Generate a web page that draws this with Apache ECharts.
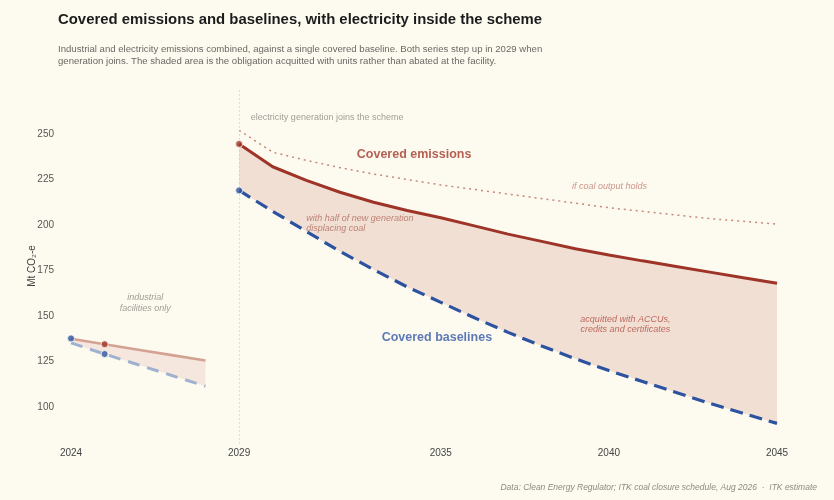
<!DOCTYPE html>
<html>
<head>
<meta charset="utf-8">
<script src="https://cdn.jsdelivr.net/npm/echarts@6.0.0/dist/echarts.min.js"></script>
<style>
  html, body { margin: 0; padding: 0; background: #fdfbf0; }
  #chart { width: 834px; height: 500px; }
</style>
</head>
<body>
<div id="chart"></div>
<script>
// industrial facilities only, before generation joins
let industYears = [2024, 2025, 2026, 2027, 2028];
let industEmissions = [137.5, 134.5, 131.5, 128.5, 125.5];
let industBaselines = [135.2, 129.1, 123.2, 117.3, 111.4];

// with electricity inside the scheme
let years = [2029, 2030, 2031, 2032, 2033, 2034, 2035, 2036, 2037, 2038, 2039, 2040, 2041, 2042, 2043, 2044, 2045];
let emissions = [244.5, 232, 224.5, 218, 212.5, 208, 204, 199.5, 195, 191, 187, 183.5, 180.3, 177.2, 174.1, 171, 168];
let coalHolds = [252, 240, 235.5, 231.5, 228, 225, 222, 219.5, 217, 214.5, 212, 209.5, 207.5, 205.5, 203.5, 202, 200.5];
let baselines = [219, 207.5, 196.5, 185.5, 175.5, 166, 157.5, 149, 141, 133.5, 126.5, 120, 114, 108, 102, 96.5, 91];

// highlighted points
let emissionDots = [[2025, 134.5], [2029, 244.5]];
let baselineDots = [[2024, 137.7], [2025, 129.1], [2029, 219]];

let xTicks = [2024, 2029, 2035, 2040, 2045];
let yTicks = [100, 125, 150, 175, 200, 225, 250];

let font = "'Liberation Sans', Arial, sans-serif";
let red = '#9e3327', blue = '#2c52a0';

let pairs = function (xs, ys) {
  return xs.map(function (x, i) { return [x, ys[i]]; });
};

// band between two lines, one polygon built through the axes
let band = function (xs, top, bottom, color) {
  return {
    type: 'custom', silent: true, z: 1,
    data: xs.map(function (x, i) { return [x, top[i], bottom[i]]; }),
    encode: { x: 0, y: [1, 2] },
    renderItem: function (params, api) {
      if (params.dataIndex !== 0) return null;
      let pts = [];
      xs.forEach(function (x, i) { pts.push(api.coord([x, top[i]])); });
      for (let i = xs.length - 1; i >= 0; i--) pts.push(api.coord([xs[i], bottom[i]]));
      return { type: 'polygon', shape: { points: pts }, style: { fill: color } };
    }
  };
};

// text notes, placed in data coordinates
let notes = [
  { at: [2029.35, 258.8], text: 'electricity generation joins the scheme', color: '#8a8680', style: 'normal', weight: 'normal', size: 9, align: 'left' },
  { at: [2032.5, 238.5], text: 'Covered emissions', color: '#a3382c', style: 'normal', weight: 'bold', size: 12.5, align: 'left' },
  { at: [2038.9, 221], text: 'if coal output holds', color: '#c07a70', style: 'italic', weight: 'normal', size: 9, align: 'left' },
  { at: [2031.0, 200.9], text: 'with half of new generation\ndisplacing coal', color: '#b0685c', style: 'italic', weight: 'normal', size: 9, align: 'left' },
  { at: [2033.24, 138], text: 'Covered baselines', color: '#3459a6', style: 'normal', weight: 'bold', size: 12.5, align: 'left' },
  { at: [2040.49, 145.3], text: 'acquitted with ACCUs,\ncredits and certificates', color: '#b04a3e', style: 'italic', weight: 'normal', size: 9, align: 'center' },
  { at: [2026.21, 157.1], text: 'industrial\nfacilities only', color: '#8a8680', style: 'italic', weight: 'normal', size: 9, align: 'center' }
];

let chart = echarts.init(document.getElementById('chart'));

chart.setOption({
  backgroundColor: '#fdfbf0',
  animation: false,
  textStyle: { fontFamily: font },
  title: [
    {
      text: 'Covered emissions and baselines, with electricity inside the scheme',
      left: 53, top: 7,
      textStyle: { fontSize: 14.9, fontWeight: 'bold', color: '#1c1c1c', fontFamily: font }
    },
    {
      text: 'Industrial and electricity emissions combined, against a single covered baseline. Both series step up in 2029 when\ngeneration joins. The shaded area is the obligation acquitted with units rather than abated at the facility.',
      left: 53, top: 38,
      textStyle: { fontSize: 9.6, fontWeight: 'normal', color: '#6b6864', lineHeight: 12, fontFamily: font }
    },
    {
      text: 'Data: Clean Energy Regulator; ITK coal closure schedule, Aug 2026  ·  ITK estimate',
      right: 12, bottom: 3,
      textStyle: { fontSize: 8.5, fontWeight: 'normal', fontStyle: 'italic', color: '#8d8a84', fontFamily: font }
    }
  ],
  grid: { left: 71, right: 57, top: 88.5, bottom: 56.6 },
  xAxis: {
    type: 'value',
    min: 2024, max: 2045,
    axisLine: { show: false },
    axisTick: { show: false },
    splitLine: { show: false },
    axisLabel: {
      customValues: xTicks, color: '#444', fontSize: 10, margin: 5,
      formatter: function (v) { return String(v); }
    }
  },
  yAxis: {
    type: 'value',
    min: 80, max: 275,
    name: 'Mt CO₂-e',
    nameLocation: 'middle',
    nameGap: 34,
    nameMoveOverlap: false,
    nameTextStyle: { color: '#444', fontSize: 10 },
    axisLine: { show: false },
    axisTick: { show: false },
    splitLine: { show: false },
    axisLabel: { customValues: yTicks, color: '#555', fontSize: 10, margin: 17 }
  },
  series: [
    band(industYears, industEmissions, industBaselines, '#f5e7de'),
    band(years, emissions, baselines, '#f1dfd4'),
    // lines
    {
      type: 'line', data: pairs(industYears, industEmissions), showSymbol: false,
      lineStyle: { color: '#d4a293', width: 2.6 }, z: 3,
      markLine: {
        silent: true, symbol: 'none',
        label: { show: false },
        lineStyle: { color: '#c4beb0', width: 1, type: [1, 3] },
        data: [{ xAxis: 2029 }]
      }
    },
    {
      type: 'line', data: pairs(industYears, industBaselines), showSymbol: false,
      lineStyle: { color: '#a0b1d0', width: 3, type: [12, 8] }, z: 3
    },
    {
      type: 'line', data: pairs(years, coalHolds), showSymbol: false,
      lineStyle: { color: '#c8877b', width: 1.5, type: [2, 4] }, z: 3
    },
    {
      type: 'line', data: pairs(years, emissions), showSymbol: false,
      lineStyle: { color: red, width: 3 }, z: 4
    },
    {
      type: 'line', data: pairs(years, baselines), showSymbol: false,
      lineStyle: { color: blue, width: 3.2, type: [13, 7] }, z: 4
    },
    // dots
    {
      type: 'scatter', data: emissionDots, symbolSize: 7,
      itemStyle: { color: red, borderColor: '#fdfbf0', borderWidth: 1 }, z: 5
    },
    {
      type: 'scatter', data: baselineDots, symbolSize: 7,
      itemStyle: { color: blue, borderColor: '#fdfbf0', borderWidth: 1 }, z: 5
    },
    // notes
    {
      type: 'scatter', symbolSize: 0, silent: true, z: 6,
      data: notes.map(function (n) {
        return {
          value: n.at,
          label: {
            show: true, position: 'inside', formatter: n.text,
            align: n.align, verticalAlign: 'middle',
            color: n.color, fontStyle: n.style, fontWeight: n.weight,
            fontSize: n.size, lineHeight: n.size + 1.5, fontFamily: font
          }
        };
      })
    }
  ]
});
</script>
</body>
</html>
